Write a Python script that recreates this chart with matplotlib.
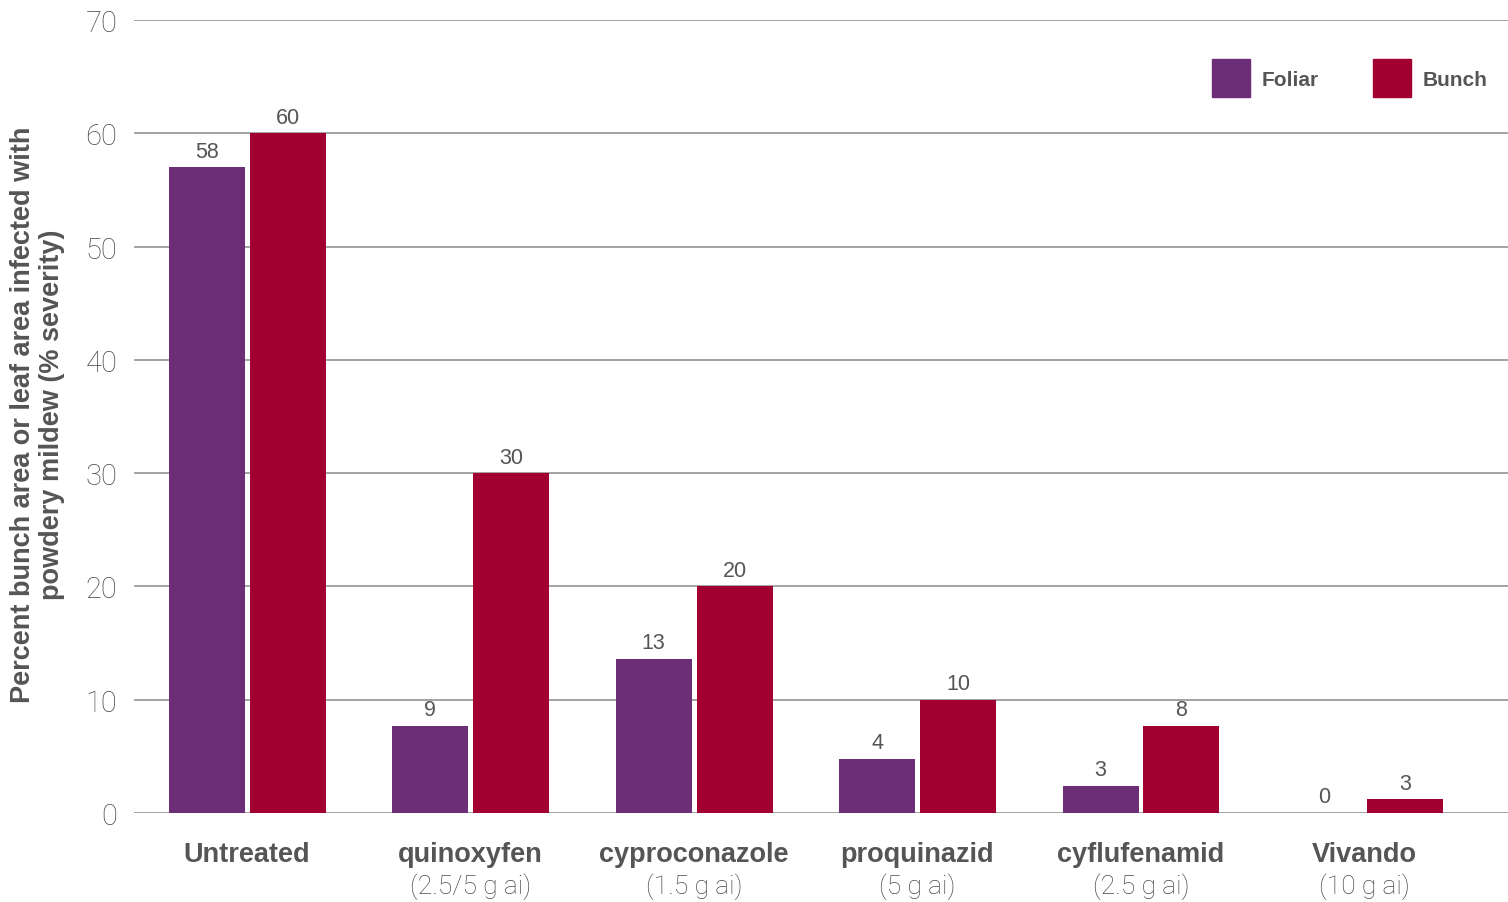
import matplotlib
matplotlib.use("Agg")
import matplotlib.pyplot as plt
from matplotlib.patches import Rectangle
import numpy as np

categories = ["Untreated", "quinoxyfen", "cyproconazole", "proquinazid", "cyflufenamid", "Vivando"]
doses = ["", "(2.5/5 g ai)", "(1.5 g ai)", "(5 g ai)", "(2.5 g ai)", "(10 g ai)"]
foliar = [57.0, 7.7, 13.6, 4.8, 2.4, 0.0]
bunch = [60.0, 30.0, 20.0, 10.0, 7.7, 1.2]
foliar_labels = ["58", "9", "13", "4", "3", "0"]
bunch_labels = ["60", "30", "20", "10", "8", "3"]
yticks = [0, 10, 20, 30, 40, 50, 60, 70]

PURPLE = "#6B2E77"
RED = "#A20030"
DARK = "#555555"
LIGHT = "#4a4a4a"
GRID = "#8a8a8a"

plt.rcParams['font.family'] = ['Liberation Sans', 'DejaVu Sans']
PX = 72.0 / 100.0  # points per pixel

fig = plt.figure(figsize=(15.08, 9.03), dpi=100)
ax = fig.add_axes([134/1508, 89/903, 1 - 134/1508, (814-21)/903])

x = np.arange(len(categories))
w = 0.34
off = 0.181
ax.bar(x - off, foliar, width=w, color=PURPLE, zorder=3)
ax.bar(x + off, bunch, width=w, color=RED, zorder=3)

for xi, v, lab in zip(x, foliar, foliar_labels):
    ax.annotate(lab, (xi - off, v), xytext=(0, 16*PX), textcoords="offset points",
                ha="center", va="center", fontsize=15.5, color=DARK)
for xi, v, lab in zip(x, bunch, bunch_labels):
    ax.annotate(lab, (xi + off, v), xytext=(0, 16*PX), textcoords="offset points",
                ha="center", va="center", fontsize=15.5, color=DARK)

ax.set_xlim(-0.506, 5.642)
ax.set_ylim(0, 70)
ax.set_yticks(yticks)
for t in yticks:
    ax.axhline(t, color=GRID, lw=1.1, zorder=1)
ax.tick_params(axis='y', length=0, pad=12, labelsize=21, labelcolor=LIGHT)
for lbl in ax.get_yticklabels():
    lbl.set_family(['Roboto', 'Liberation Sans', 'DejaVu Sans'])
    lbl.set_fontweight('light')
ax.set_xticks([])
for s in ax.spines.values():
    s.set_visible(False)

for xi, c, d in zip(x, categories, doses):
    ax.annotate(c, (xi, 0), xytext=(0, -41*PX), textcoords="offset points",
                ha="center", va="center", fontsize=19.5, fontweight="bold", color=DARK)
    if d:
        t = ax.annotate(d, (xi, 0), xytext=(0, -73*PX), textcoords="offset points",
                        ha="center", va="center", fontsize=19, color=LIGHT)
        t.set_family(['Roboto', 'Liberation Sans', 'DejaVu Sans'])
        t.set_fontweight('light')

fig.text(38/1508, 1 - 415/903, "Percent bunch area or leaf area infected with\npowdery mildew (% severity)",
         rotation=90, ha="center", va="center", fontsize=19.5, fontweight="bold", color=DARK,
         linespacing=1.15, multialignment="center")

# legend
H = 903.0
W = 1508.0
for px, name, col in [(1212, "Foliar", PURPLE), (1373, "Bunch", RED)]:
    fig.patches.append(Rectangle((px/W, 1 - 98/H), 38/W, 38/H, transform=fig.transFigure,
                                 color=col, zorder=5))
    fig.text((px + 50)/W, 1 - 80/H, name, ha="left", va="center", fontsize=15,
             fontweight="bold", color=DARK)

fig.savefig("out.png", dpi=100)
